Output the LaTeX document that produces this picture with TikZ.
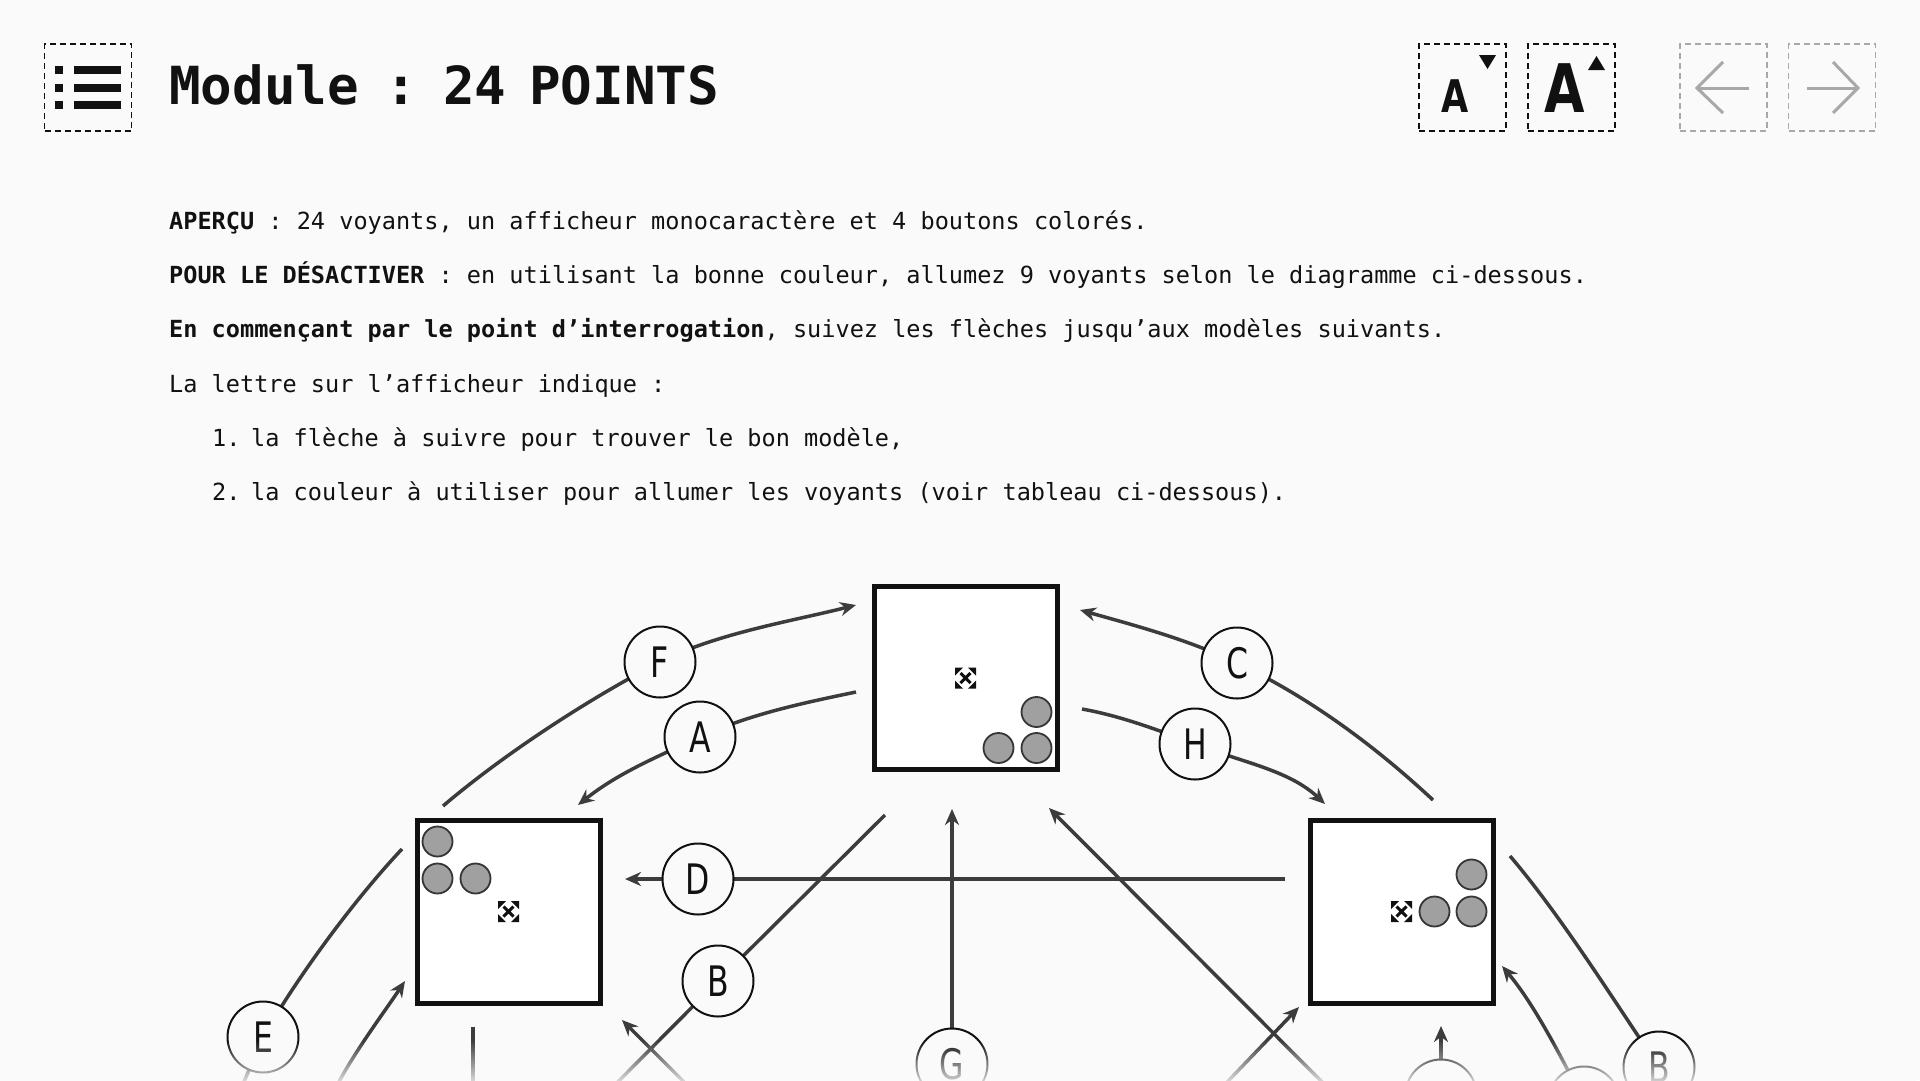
\documentclass[tikz,border=0pt]{standalone}
\usepackage{fontspec}
\setmainfont{DejaVu Sans}
\newfontfamily\mono{DejaVu Sans Mono}
\newfontfamily\labfont[FakeStretch=0.75]{DejaVu Sans}
\newfontfamily\iconfont[FakeStretch=0.78]{DejaVu Sans}
\usetikzlibrary{arrows.meta,fadings}
\definecolor{bgc}{HTML}{FAFAFA}
\definecolor{ink}{HTML}{111111}
\definecolor{wirec}{HTML}{3C3C3C}
\definecolor{dotc}{HTML}{A0A0A0}
\definecolor{navc}{HTML}{A8A8A8}
\pgfdeclarelayer{back}
\pgfdeclarelayer{wires}
\pgfsetlayers{back,wires,main}
\tikzset{
  dashbox/.style={draw=ink, line width=1.6pt, dash pattern=on 6pt off 4pt, minimum width=87pt, minimum height=87pt, inner sep=0pt},
  navbox/.style={dashbox, draw=navc},
  modbox/.style={draw=ink, line width=5pt, fill=white, minimum width=183pt, minimum height=183pt, inner sep=0pt},
  lab/.style={circle, draw=ink, line width=2pt, fill=bgc, minimum size=71pt, inner sep=0pt, text=ink, font=\labfont\fontsize{42}{42}\selectfont},
  wire/.style={draw=wirec, line width=3.5pt},
  arr/.style={-{Stealth[length=16pt,width=14pt]}},
  bodytext/.style={anchor=base west, inner sep=0pt, text=ink, font=\mono\fontsize{23.55}{28}\selectfont},
  titletext/.style={anchor=base west, inner sep=0pt, text=ink, font=\mono\bfseries\fontsize{52.5}{60}\selectfont},
  lamp/.style={fill=dotc, draw=ink!85, line width=1.8pt},
  moveicon/.pic={
    \draw[ink, line width=3pt] (-5,-5) -- (5,5) (-5,5) -- (5,-5);
    \fill[ink] (-10.5,-10.5) -- (-2.5,-10.5) -- (-10.5,-2.5) -- cycle;
    \fill[ink] (10.5,-10.5) -- (2.5,-10.5) -- (10.5,-2.5) -- cycle;
    \fill[ink] (-10.5,10.5) -- (-2.5,10.5) -- (-10.5,2.5) -- cycle;
    \fill[ink] (10.5,10.5) -- (2.5,10.5) -- (10.5,2.5) -- cycle;
  }
}
\begin{document}
\begin{tikzpicture}[x=1pt,y=-1pt]
\useasboundingbox (0,0) rectangle (1920,1080);
\begin{pgfonlayer}{back}
\fill[bgc] (0,0) rectangle (1920,1080);
\end{pgfonlayer}

% ---------- header ----------
\node[dashbox] (menu) at (88,87.5) {};
\foreach \yy in {70,87.5,105}{
  \fill[ink] (55,\yy-4) rectangle (63,\yy+4);
  \fill[ink] (73.5,\yy-4) rectangle (120.5,\yy+4);
}
\node[titletext] (title1) at (169,104) {Module};
\node[titletext] (title2) at (385,104) {:};
\node[titletext] (title3) at (443,104) {24};
\node[titletext] (title4) at (529,104) {POINTS};

\node[dashbox] (fsmall) at (1462.5,87.5) {};
\node[anchor=base, inner sep=0pt, text=ink, font=\iconfont\bfseries\fontsize{45}{45}\selectfont] (asmall) at (1455,112) {A};
\fill[ink] (1479,55) -- (1496,55) -- (1487.5,69) -- cycle;
\node[dashbox] (fbig) at (1571.5,87.5) {};
\node[anchor=base, inner sep=0pt, text=ink, font=\iconfont\bfseries\fontsize{67}{67}\selectfont] (abig) at (1565,112) {A};
\fill[ink] (1588,70) -- (1605,70) -- (1596.5,56) -- cycle;

\node[navbox] (prev) at (1723.5,87.5) {};
\draw[navc, line width=3pt] (1749,88) -- (1697,88);
\draw[navc, line width=3pt] (1723,62) -- (1697,88) -- (1723,113);
\node[navbox] (next) at (1832,87.5) {};
\draw[navc, line width=3pt] (1807,88) -- (1858,88);
\draw[navc, line width=3pt] (1833,62) -- (1858,88) -- (1833,113);

% ---------- text ----------
\node[bodytext] (t1) at (169,229) {\textbf{APERÇU} : 24 voyants, un afficheur monocaractère et 4 boutons colorés.};
\node[bodytext] (t2) at (169,283) {\textbf{POUR LE DÉSACTIVER} : en utilisant la bonne couleur, allumez 9 voyants selon le diagramme ci-dessous.};
\node[bodytext] (t3) at (169,337.5) {\textbf{En commençant par le point d’interrogation}, suivez les flèches jusqu’aux modèles suivants.};
\node[bodytext] (t4) at (169,392) {La lettre sur l’afficheur indique :};
\node[bodytext] (n5) at (212,446) {1.};
\node[bodytext] (t5) at (251,446) {la flèche à suivre pour trouver le bon modèle,};
\node[bodytext] (n6) at (212,500) {2.};
\node[bodytext] (t6) at (251,500) {la couleur à utiliser pour allumer les voyants (voir tableau ci-dessous).};

% ---------- modules ----------
\node[modbox] (T) at (965.5,678) {};
\node[modbox] (L) at (508.5,911.5) {};
\node[modbox] (R) at (1401.5,911.5) {};
\pic at (T.center) {moveicon};
\pic at (L.center) {moveicon};
\pic at (R.center) {moveicon};
\foreach \dx/\dy in {71/34, 33/70, 71/70}
  \filldraw[lamp] ([shift={(\dx,\dy)}]T.center) circle[radius=15pt];
\foreach \dx/\dy in {-71/-70, -71/-33, -33/-33}
  \filldraw[lamp] ([shift={(\dx,\dy)}]L.center) circle[radius=15pt];
\foreach \dx/\dy in {70/-37, 70/0, 33/0}
  \filldraw[lamp] ([shift={(\dx,\dy)}]R.center) circle[radius=15pt];

% ---------- labels ----------
\node[lab] (F) at (660,662) {F};
\node[lab] (A) at (700,737) {A};
\node[lab] (C) at (1237,663) {C};
\node[lab] (H) at (1195,744) {H};
\node[lab] (D) at (698,879) {D};
\node[lab] (B) at (718,981) {B};
\node[lab] (E) at (263,1037) {E};
\node[lab] (G) at (952,1064) {G};
\node[lab] (X1) at (1441,1095) {};
\node[lab] (X2) at (1584,1102) {};
\node[lab] (B2) at (1659,1067) {B};

% ---------- free ends ----------
\coordinate (fs) at (443,806);   \coordinate (fe) at (856,605);
\coordinate (as) at (856,692);   \coordinate (ae) at (578,805);
\coordinate (cs) at (1433,800);  \coordinate (ce) at (1080,610);
\coordinate (hs) at (1082,709);  \coordinate (he) at (1325,804);
\coordinate (ds) at (1285,879);  \coordinate (de) at (625,879);
\coordinate (bs) at (885,815);   \coordinate (be) at (590,1110);
\coordinate (l7s) at (700,1098); \coordinate (l7e) at (622,1020);
\coordinate (es) at (402,849);   \coordinate (ee) at (232,1110);
\coordinate (l9s) at (330,1100); \coordinate (l9e) at (405,981);
\coordinate (l10s) at (473,1027); \coordinate (l10e) at (473,1110);
\coordinate (ge) at (952,809);
\coordinate (l12s) at (1345,1105); \coordinate (l12e) at (1049,808);
\coordinate (l13s) at (1210,1100); \coordinate (l13e) at (1299,1007);
\coordinate (l14e) at (1441,1026);
\coordinate (l15e) at (1502,966);
\coordinate (l16s) at (1510,856); \coordinate (l16e) at (1680,1110);

\begin{pgfonlayer}{wires}
\draw[wire,arr] (fs) .. controls (504,754) and (590,698) .. (F.center) .. controls (717,633) and (793,621) .. (fe);
\draw[wire,arr] (as) .. controls (803,703) and (750,714) .. (A.center) .. controls (654,758) and (617,774) .. (ae);
\draw[wire,arr] (cs) .. controls (1375,746) and (1309,697) .. (C.center) .. controls (1187,639) and (1133,625) .. (ce);
\draw[wire,arr] (hs) .. controls (1121,716) and (1158,730) .. (H.center) .. controls (1241,762) and (1289,770) .. (he);
\draw[wire,arr] (ds) -- (D.center) -- (de);
\draw[wire] (bs) -- (B.center) -- (be);
\draw[wire,arr] (l7s) -- (l7e);
\draw[wire] (es) .. controls (354,900) and (298,976) .. (E.center) -- (ee);
\draw[wire,arr] (l9s) .. controls (346,1063) and (383,1014) .. (l9e);
\draw[wire] (l10s) -- (l10e);
\draw[wire,arr] (G.center) -- (ge);
\draw[wire,arr] (l12s) -- (l12e);
\draw[wire,arr] (l13s) -- (l13e);
\draw[wire,arr] (X1.center) -- (l14e);
\draw[wire,arr] (X2.center) .. controls (1562,1058) and (1534,1004) .. (l15e);
\draw[wire] (l16s) .. controls (1562,917) and (1614,1001) .. (B2.center) -- (l16e);
\end{pgfonlayer}

% ---------- bottom fade ----------
\fill[bgc, path fading=north] (0,1040) rectangle (1920,1090);
\end{tikzpicture}
\end{document}
